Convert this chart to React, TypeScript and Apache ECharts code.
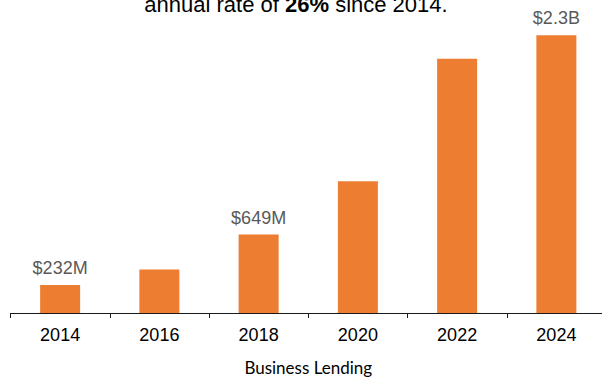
import React, { useEffect, useRef } from "react";
import * as echarts from "echarts";

const categories = ["2014", "2016", "2018", "2020", "2022", "2024"];
const lendingMillions = [232, 360, 649, 1090, 2105, 2300];
const barLabels = ["$232M", "", "$649M", "", "", "$2.3B"];
const axisTitle = "Business Lending";
const titleParts = ["annual rate of ", "26%", " since 2014."];

export default function App() {
  const ref = useRef<HTMLDivElement>(null);
  useEffect(() => {
    if (!ref.current) return;
    const chart = echarts.init(ref.current, null, { renderer: "svg" });
    chart.setOption({
      animation: false,
      grid: { left: 10.5, width: 595.5, top: 11, bottom: 66, containLabel: false },
      xAxis: {
        type: "category",
        data: categories,
        axisLine: { lineStyle: { color: "#1a1a1a", width: 1 } },
        axisTick: { show: true, length: 5, lineStyle: { color: "#1a1a1a" } },
        axisLabel: {
          color: "#000",
          fontSize: 18,
          fontFamily: "Liberation Sans, Arial, sans-serif",
          margin: 13,
        },
        name: axisTitle,
        nameLocation: "middle",
        nameGap: 46,
        nameTextStyle: { color: "#000", fontSize: 17, fontFamily: "Lato, sans-serif" },
      },
      yAxis: { type: "value", min: 0, max: 2500, show: false },
      series: [
        {
          type: "bar",
          barWidth: 40,
          itemStyle: { color: "#ED7D31" },
          data: lendingMillions.map((v, i) => ({
            value: v,
            label: {
              show: barLabels[i] !== "",
              position: "top",
              distance: 8,
              formatter: barLabels[i],
              color: "#595959",
              fontSize: 18,
              fontFamily: "Liberation Sans, Arial, sans-serif",
            },
          })),
        },
      ],
      graphic: [
        {
          type: "text",
          x: 296,
          y: 15,
          style: {
            text: `{a|${titleParts[0]}}{b|${titleParts[1]}}{a|${titleParts[2]}}`,
            align: "center",
            verticalAlign: "bottom",
            rich: {
              a: { fontSize: 22, color: "#000", fontFamily: "Liberation Sans, Arial, sans-serif" },
              b: { fontSize: 22, color: "#000", fontWeight: "bold", fontFamily: "Liberation Sans, Arial, sans-serif" },
            },
          },
        },
      ],
    });
    return () => chart.dispose();
  }, []);
  return (
    <div style={{ width: 602, height: 381, position: "absolute", left: 0, top: 0, overflow: "hidden" }}>
      <div ref={ref} style={{ width: 610, height: 381 }} />
    </div>
  );
}
